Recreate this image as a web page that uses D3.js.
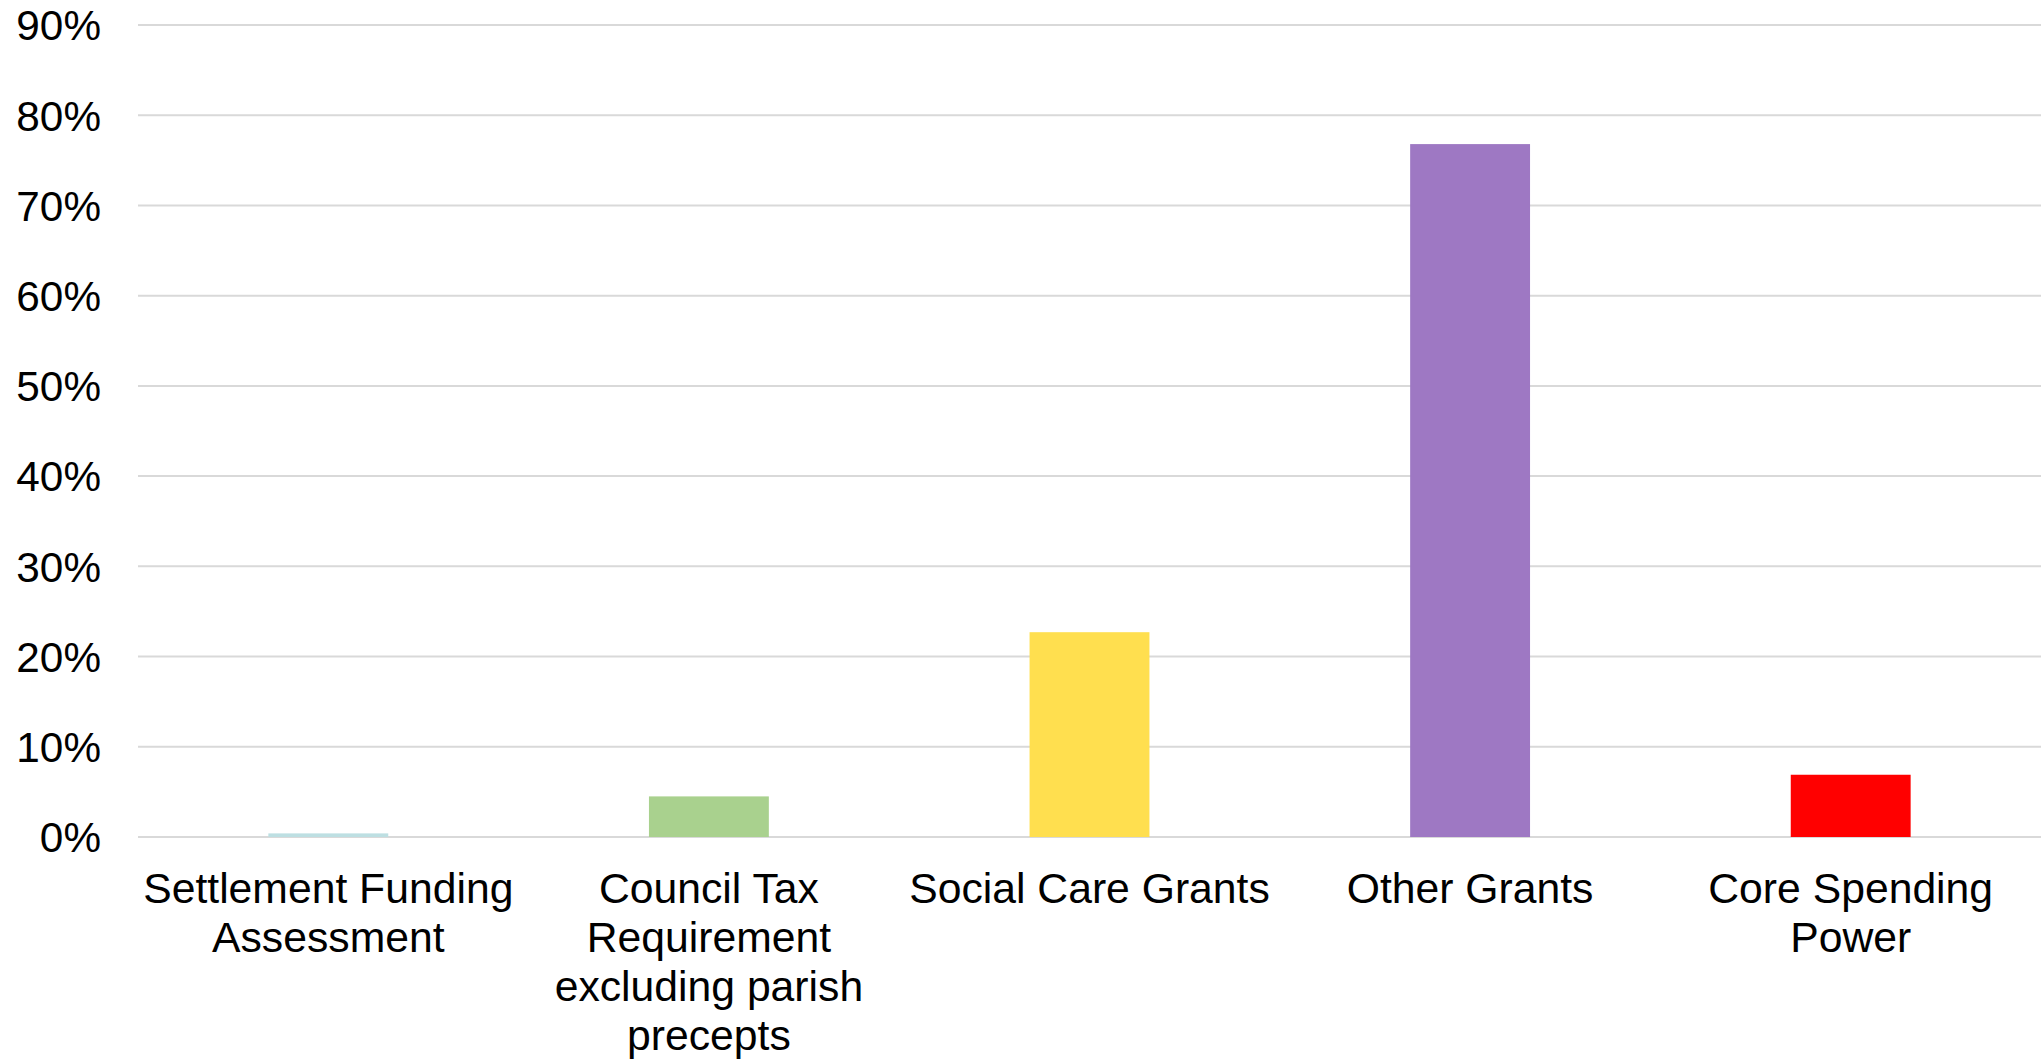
<!DOCTYPE html>
<html>
<head>
<meta charset="utf-8">
<script src="https://cdn.jsdelivr.net/npm/d3@7"></script>
<style>
  html, body { margin: 0; padding: 0; background: #ffffff; }
  svg { display: block; }
  text { font-family: "Liberation Sans", Arial, sans-serif; fill: #000; }
</style>
</head>
<body>
<svg id="chart" width="2041" height="1059"></svg>
<script>
// Data
const categories = [
  "Settlement Funding Assessment",
  "Council Tax Requirement excluding parish precepts",
  "Social Care Grants",
  "Other Grants",
  "Core Spending Power"
];
const categoryLines = [
  ["Settlement Funding", "Assessment"],
  ["Council Tax", "Requirement", "excluding parish", "precepts"],
  ["Social Care Grants"],
  ["Other Grants"],
  ["Core Spending", "Power"]
];
const values = [0.4, 4.5, 22.7, 76.8, 6.9];
const barColors = ["#BDDFE2", "#A9D18E", "#FFDF4F", "#9E78C3", "#FF0000"];
const yTicks = [0, 10, 20, 30, 40, 50, 60, 70, 80, 90];

const svg = d3.select("#chart");
const plot = { left: 138, right: 2041, top: 25, bottom: 837 };

const x = d3.scaleBand().domain(categories).range([plot.left, plot.right]).padding(0);
const y = d3.scaleLinear().domain([0, 90]).range([plot.bottom, plot.top]);
const barW = x.bandwidth() * 0.315;

// Gridlines
svg.append("g").selectAll("line").data(yTicks).join("line")
  .attr("x1", plot.left).attr("x2", plot.right)
  .attr("y1", d => y(d)).attr("y2", d => y(d))
  .attr("stroke", "#d9d9d9").attr("stroke-width", 2);

// Y axis labels
const yAxis = d3.axisLeft(y).tickValues(yTicks).tickFormat(d => d + "%").tickSize(0).tickPadding(0);
const yg = svg.append("g").attr("transform", `translate(${plot.left - 37},0)`).call(yAxis);
yg.select(".domain").remove();
yg.selectAll("text").attr("font-size", 42.3).attr("font-family", "Liberation Sans, Arial, sans-serif").attr("fill", "#000").attr("dy", "0.35em");

// Bars
svg.append("g").selectAll("rect").data(values).join("rect")
  .attr("x", (d, i) => x(categories[i]) + x.bandwidth() / 2 - barW / 2)
  .attr("width", barW)
  .attr("y", d => y(d))
  .attr("height", d => y(0) - y(d))
  .attr("fill", (d, i) => barColors[i]);

// Category labels
const lab = svg.append("g");
categories.forEach((c, i) => {
  const t = lab.append("text")
    .attr("x", x(c) + x.bandwidth() / 2)
    .attr("y", 903)
    .attr("text-anchor", "middle")
    .attr("font-size", 42.7);
  categoryLines[i].forEach((line, j) => {
    t.append("tspan").attr("x", x(c) + x.bandwidth() / 2).attr("y", 903 + j * 49).text(line);
  });
});
</script>
</body>
</html>
